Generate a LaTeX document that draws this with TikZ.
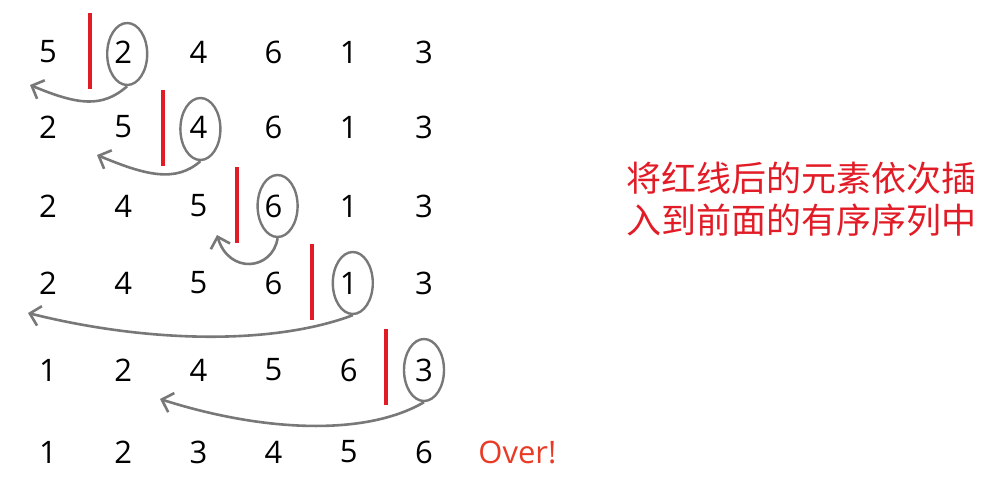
\documentclass[tikz,border=0pt]{standalone}
\usepackage{fontspec}
\setmainfont{Open Sans}
\newfontfamily\cjk{Noto Sans CJK SC}
\usetikzlibrary{arrows.meta, shapes.geometric}

\definecolor{cutred}{RGB}{226,28,38}
\definecolor{overred}{RGB}{232,58,36}
\definecolor{markgray}{RGB}{120,120,120}

\begin{document}
\begin{tikzpicture}[
        x=0.5pt, y=-0.5pt,
        font=\fontsize{15.5}{18}\selectfont,
        % Styles
        num/.style={inner sep=0pt, text=black},
        pick/.style={ellipse, draw=markgray, line width=1.2pt, minimum width=20pt, minimum height=31pt, inner sep=0pt},
        cut/.style={draw=cutred, line width=2.2pt},
        move/.style={draw=markgray, line width=1.3pt, -{Straight Barb[length=5pt, width=10pt, line width=1.3pt]}},
        note/.style={text=cutred, font=\cjk\fontsize{17.5}{21}\selectfont, align=center}
    ]
    \path[use as bounding box] (0,0) rectangle (988,476);

    % Rows of the sequence
    \foreach \v [count=\c] in {5,2,4,6,1,3} \node[num] (a\c) at (75.2*\c-27.2,52) {\v};
    \foreach \v [count=\c] in {2,5,4,6,1,3} \node[num] (b\c) at (75.2*\c-27.2,127) {\v};
    \foreach \v [count=\c] in {2,4,5,6,1,3} \node[num] (c\c) at (75.2*\c-27.2,206) {\v};
    \foreach \v [count=\c] in {2,4,5,6,1,3} \node[num] (d\c) at (75.2*\c-27.2,283) {\v};
    \foreach \v [count=\c] in {1,2,4,5,6,3} \node[num] (e\c) at (75.2*\c-27.2,370) {\v};
    \foreach \v [count=\c] in {1,2,3,4,5,6} \node[num] (f\c) at (75.2*\c-27.2,452) {\v};

    \node[text=overred, anchor=west, inner sep=0pt] (over) at (478,452) {Over!};

    % Red split lines
    \draw[cut] (90,13) -- (90,89);
    \draw[cut] (163,90) -- (163,166);
    \draw[cut] (237,167) -- (237,243);
    \draw[cut] (312,244) -- (312,320);
    \draw[cut] (386,329) -- (386,405);

    % Picked element
    \node[pick] (p1) at ([xshift=2pt, yshift=-1pt]a2) {};
    \node[pick] (p2) at ([xshift=1pt, yshift=-1pt]b3) {};
    \node[pick] (p3) at ([xshift=2pt]c4) {};
    \node[pick] (p4) at ([xshift=2pt]d5) {};
    \node[pick] (p5) at (e6) {};

    % Insert positions
    \coordinate (t1) at (30,85);
    \coordinate (t2) at (97,155);
    \coordinate (t3) at (217,235);
    \coordinate (t4) at (28,313);
    \coordinate (t5) at (160,399);

    \draw[move] (p1.south) .. controls +(-25,22) and +(48,20) .. (t1);
    \draw[move] (p2.south) .. controls +(-25,22) and +(48,20) .. (t2);
    \draw[move] (p3.south) .. controls +(-5,32) and +(12,40) .. (t3);
    \draw[move] (p4.south) .. controls +(-80,30) and +(120,30) .. (t4);
    \draw[move] (p5.south) .. controls +(-60,35) and +(100,32) .. (t5);

    % Explanation
    \node[note] (tip) at (801,199) {将红线后的元素依次插\\入到前面的有序序列中};

\end{tikzpicture}
\end{document}
